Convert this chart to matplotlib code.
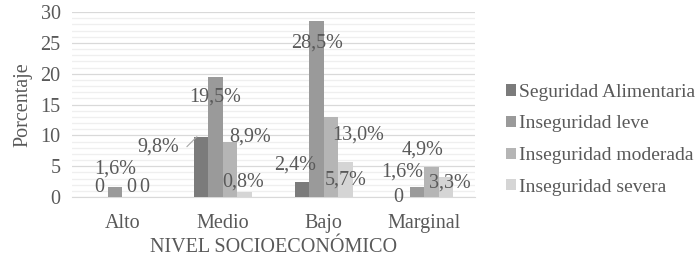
import numpy as np
import matplotlib.pyplot as plt
from matplotlib.ticker import MultipleLocator

plt.rcParams['font.family'] = ['Liberation Serif', 'DejaVu Serif']

categorias = ["Alto", "Medio", "Bajo", "Marginal"]
series = ["Seguridad Alimentaria", "Inseguridad leve",
          "Inseguridad moderada", "Inseguridad severa"]
seg_alimentaria = [0, 9.8, 2.4, 0]
inseg_leve = [1.6, 19.5, 28.5, 1.6]
inseg_moderada = [0, 8.9, 13.0, 4.9]
inseg_severa = [0, 0.8, 5.7, 3.3]
etiquetas = [["0", "9,8%", "2,4%", "0"],
             ["1,6%", "19,5%", "28,5%", "1,6%"],
             ["0", "8,9%", "13,0%", "4,9%"],
             ["0", "0,8%", "5,7%", "3,3%"]]

colores = ["#7b7b7b", "#9a9a9a", "#b5b5b5", "#d5d5d5"]
gris = "#595959"
fs = 14.5

# desplazamientos de las etiquetas (pixeles) como en el original
offs = [[(-1, 10), (-43, -10), (-7, 17), (-4, 0)],
        [(0, 18), (0, -20), (1, -22), (-15, 15)],
        [(2, 10), (20, 5), (27, -18), (-9, 17)],
        [(0, 10), (-1, 10), (0, -18), (4, -6)]]

fig = plt.figure(figsize=(6.97, 2.58), dpi=100)
ax = fig.add_axes([0.103, 0.236, 0.578, 0.717])

valores = [seg_alimentaria, inseg_leve, inseg_moderada, inseg_severa]
x = np.arange(len(categorias))
w = 0.144
for i, vals in enumerate(valores):
    pos = x + (i - 1.5) * w
    ax.bar(pos, vals, w, color=colores[i], label=series[i], zorder=3)
    for j, v in enumerate(vals):
        dx, dy = offs[i][j]
        ax.annotate(etiquetas[i][j], (pos[j], v), xytext=(dx, dy),
                    textcoords="offset pixels", ha="center", va="center",
                    fontsize=fs, color=gris, zorder=4)

# linea guia de la etiqueta 9,8%
ax.annotate("", (x[1] - 2 * w + 0.03, seg_alimentaria[1]),
            xytext=(-10, -10), textcoords="offset pixels",
            arrowprops=dict(arrowstyle="-", color="#a6a6a6", lw=0.8,
                            shrinkA=0, shrinkB=0))

ax.set_xlim(-0.5, 3.5)
ax.set_ylim(0, 30)
ax.yaxis.set_major_locator(MultipleLocator(5))
ax.yaxis.set_minor_locator(MultipleLocator(1))
ax.grid(axis="y", which="major", color="#d9d9d9", lw=0.9, zorder=0)
ax.grid(axis="y", which="minor", color="#efefef", lw=0.9, zorder=0)
ax.set_xticks(x)
ax.set_xticklabels(categorias)
ax.tick_params(axis="both", which="both", length=0, labelsize=fs,
               colors=gris)
ax.tick_params(axis="x", pad=12)
ax.tick_params(axis="y", pad=8)
for s in ["top", "right", "left"]:
    ax.spines[s].set_visible(False)
ax.spines["bottom"].set_color("#d9d9d9")
ax.set_xlabel("NIVEL SOCIOECONÓMICO", fontsize=fs, color=gris, labelpad=4)
ax.set_ylabel("Porcentaje", fontsize=fs, color=gris, labelpad=6)

leg = ax.legend(loc="center left", bbox_to_anchor=(1.035, 0.31), frameon=False,
                fontsize=14, handlelength=0.5, handleheight=0.5,
                handletextpad=0.15, labelspacing=0.75, labelcolor=gris)

fig.savefig("out.png", dpi=100)
